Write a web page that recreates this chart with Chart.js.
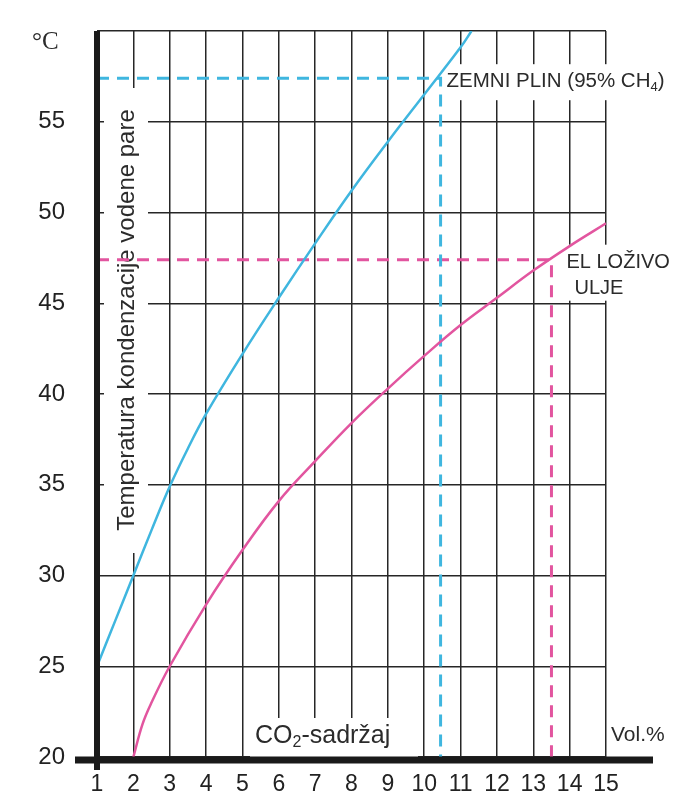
<!DOCTYPE html>
<html>
<head>
<meta charset="utf-8">
<script src="https://cdn.jsdelivr.net/npm/chart.js@4.4.0/dist/chart.umd.min.js"></script>
<style>
    html, body { margin: 0; padding: 0; background: #fff; }
    #wrap { width: 686px; height: 810px; }
</style>
</head>
<body>
<div id="wrap"><canvas id="chart" width="686" height="810"></canvas></div>
<script>
// ===========================
// Dew point of flue gas vs CO2 content
// ===========================

// Axis ticks
const xTicks = [1, 2, 3, 4, 5, 6, 7, 8, 9, 10, 11, 12, 13, 14, 15];
const yTicks = [20, 25, 30, 35, 40, 45, 50, 55, 60];

// Natural gas (blue curve), CO2 Vol.% -> °C
const gasCo2 = [1, 1.5, 2, 2.5, 3, 3.5, 4, 5, 6, 7, 8, 9, 10, 11, 11.3];
const gasTemp = [25, 27.5, 30, 32.5, 34.9, 37, 38.9, 42.2, 45.3, 48.3, 51.2, 53.9, 56.5, 59.1, 60];

// Light fuel oil (pink curve)
const oilCo2 = [2, 2.25, 2.5, 3, 4, 5, 6, 7, 8, 9, 10, 11, 12, 13, 14, 15];
const oilTemp = [20, 21.8, 23, 25, 28.4, 31.4, 34.1, 36.3, 38.4, 40.3, 42.1, 43.8, 45.3, 46.8, 48.15, 49.4];

// Marked operating points (dashed guides)
const gasMarkX = 10.45;
const gasMarkY = 57.4;
const oilMarkX = 13.5;
const oilMarkY = 47.4;

const blue = '#3fb6df';
const pink = '#e2559f';
const ink = '#262626';

function toPoints(xs, ys) {
    return xs.map((x, i) => ({ x: x, y: ys[i] }));
}

function guide(mx, my) {
    return [{ x: xTicks[0], y: my }, { x: mx, y: my }, { x: mx, y: yTicks[0] }];
}

// draw text with a subscript piece
function drawParts(ctx, parts, x, y, size, family) {
    let cx = x;
    parts.forEach(p => {
        const s = p.sub ? Math.round(size * 0.62) : size;
        ctx.font = s + 'px ' + family;
        ctx.fillText(p.t, cx, p.sub ? y + size * 0.28 : y);
        cx += ctx.measureText(p.t).width;
    });
}

const decorPlugin = {
    id: 'decor',
    beforeDatasetsDraw(chart) {
        const ctx = chart.ctx;
        const xs = chart.scales.x;
        const ys = chart.scales.y;
        ctx.save();

        // white patches behind labels, breaking the grid like the print
        ctx.fillStyle = '#fff';
        ctx.fillRect(104, 88, 44, 465);
        ctx.fillRect(250, 718, 168, 40);
        const gx = xs.getPixelForValue(gasMarkX);
        const gy = ys.getPixelForValue(gasMarkY);
        ctx.fillRect(gx + 3, gy - 14, 232, 36);
        const ox = xs.getPixelForValue(oilMarkX);
        const oy = ys.getPixelForValue(oilMarkY);
        ctx.fillRect(ox + 12, oy - 15, 122, 56);

        ctx.fillStyle = '#2b2b2b';
        ctx.textBaseline = 'middle';

        // y axis title, rotated
        ctx.save();
        ctx.translate(127, 320);
        ctx.rotate(-Math.PI / 2);
        ctx.textAlign = 'center';
        ctx.font = '24px "Liberation Sans", Arial, sans-serif';
        ctx.fillText('Temperatura kondenzacije vodene pare', 0, 0);
        ctx.restore();

        ctx.textAlign = 'left';
        const fam = '"Liberation Sans", Arial, sans-serif';
        drawParts(ctx, [{ t: 'ZEMNI PLIN (95% CH' }, { t: '4', sub: true }, { t: ')' }], gx + 6, gy + 3, 20.5, fam);
        drawParts(ctx, [{ t: 'EL LOŽIVO' }], ox + 15, oy + 3, 20, fam);
        drawParts(ctx, [{ t: 'ULJE' }], ox + 23, oy + 29, 20, fam);
        drawParts(ctx, [{ t: 'CO' }, { t: '2', sub: true }, { t: '-sadržaj' }], 255, 736, 25, fam);
        drawParts(ctx, [{ t: 'Vol.%' }], 611, 735, 21, fam);

        ctx.font = '25px "Liberation Serif", "Times New Roman", serif';
        ctx.fillText('°C', 32, 42);
        ctx.restore();
    },
    afterDatasetsDraw(chart) {
        const ctx = chart.ctx;
        const a = chart.chartArea;
        ctx.save();
        ctx.strokeStyle = '#1a1a1a';
        ctx.lineCap = 'butt';
        // thick left axis
        ctx.lineWidth = 6;
        ctx.beginPath();
        ctx.moveTo(a.left, a.top);
        ctx.lineTo(a.left, a.bottom + 13);
        ctx.stroke();
        // thick bottom axis, running past both ends
        ctx.lineWidth = 7;
        ctx.beginPath();
        ctx.moveTo(a.left - 22, a.bottom + 3);
        ctx.lineTo(a.right + 47, a.bottom + 3);
        ctx.stroke();
        ctx.restore();
    }
};

new Chart(document.getElementById('chart'), {
    type: 'line',
    data: {
        datasets: [{
            data: toPoints(gasCo2, gasTemp),
            borderColor: blue,
            borderWidth: 2.5,
            tension: 0.4
        }, {
            data: toPoints(oilCo2, oilTemp),
            borderColor: pink,
            borderWidth: 2.5,
            tension: 0.4
        }, {
            data: guide(gasMarkX, gasMarkY),
            borderColor: blue,
            borderWidth: 3,
            borderDash: [12, 8],
            tension: 0
        }, {
            data: guide(oilMarkX, oilMarkY),
            borderColor: pink,
            borderWidth: 3,
            borderDash: [12, 8],
            tension: 0
        }]
    },
    options: {
        responsive: false,
        animation: false,
        layout: { padding: { top: 31, right: 80, left: 0, bottom: 0 } },
        elements: { point: { radius: 0 } },
        plugins: {
            legend: { display: false },
            tooltip: { enabled: false }
        },
        scales: {
            x: {
                type: 'linear',
                min: 1,
                max: 15,
                afterBuildTicks: s => { s.ticks = xTicks.map(v => ({ value: v })); },
                afterFit: s => { s.height = 53; },
                border: { display: false },
                grid: { color: ink, lineWidth: 1.5, drawTicks: false },
                ticks: {
                    color: '#222',
                    font: { size: 23, family: '"Liberation Sans", Arial, sans-serif' },
                    padding: 14,
                    maxRotation: 0,
                    autoSkip: false
                }
            },
            y: {
                min: 20,
                max: 60,
                afterBuildTicks: s => { s.ticks = yTicks.map(v => ({ value: v })); },
                afterFit: s => { s.width = 97; },
                border: { display: false },
                // invisible tick marks push the labels away from the axis
                grid: { color: ink, lineWidth: 1.5, drawTicks: true, tickLength: 30, tickColor: 'rgba(0,0,0,0)' },
                ticks: {
                    color: '#222',
                    font: { size: 24, family: '"Liberation Sans", Arial, sans-serif' },
                    padding: 2,
                    callback: v => (v === 60 ? '' : v)
                }
            }
        }
    },
    plugins: [decorPlugin]
});
</script>
</body>
</html>
